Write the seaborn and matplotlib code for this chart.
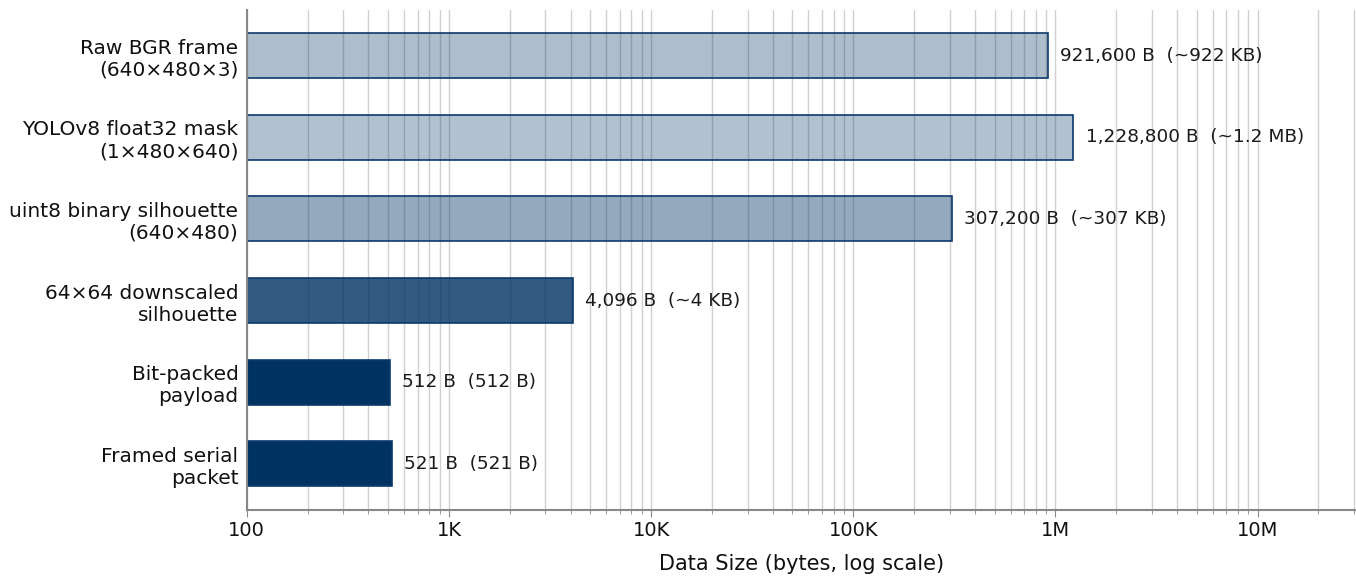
import numpy as np
import pandas as pd
import matplotlib
matplotlib.use("Agg")
import matplotlib.pyplot as plt
import matplotlib.ticker as mticker
import seaborn as sns

# data
stages = [
    "Raw BGR frame\n(640×480×3)",
    "YOLOv8 float32 mask\n(1×480×640)",
    "uint8 binary silhouette\n(640×480)",
    "64×64 downscaled\nsilhouette",
    "Bit-packed\npayload",
    "Framed serial\npacket",
]
sizes = [921600, 1228800, 307200, 4096, 512, 521]
size_notes = ["~922 KB", "~1.2 MB", "~307 KB", "~4 KB", "512 B", "521 B"]
alphas = [0.32, 0.30, 0.42, 0.80, 1.0, 1.0]

base_color = "#003262"

df = pd.DataFrame({"stage": stages, "size": sizes})

sns.set_style("white")
plt.rcParams["font.family"] = ["DejaVu Sans"]

fig, ax = plt.subplots(figsize=(13.56, 5.79), dpi=100)
fig.subplots_adjust(left=0.182, right=1.0, top=0.983, bottom=0.12)

ax.set_xscale("log")
ax.grid(True, which="both", axis="x", color="#d0d0d0", linewidth=1.0)
ax.set_axisbelow(True)

sns.barplot(data=df, x="size", y="stage", orient="h", color=base_color,
            width=0.55, ax=ax, zorder=2)

for patch, a in zip(ax.patches, alphas):
    patch.set_facecolor(matplotlib.colors.to_rgba(base_color, a))
    patch.set_edgecolor("#0b3a6a")
    patch.set_linewidth(1.2)

# value labels
for i, (s, note) in enumerate(zip(sizes, size_notes)):
    ax.text(s * 1.15, i, f"{s:,} B  ({note})", va="center", ha="left",
            fontsize=13.3, color="#1a1a1a")

ax.set_xlim(100, 3.07e7)
ax.set_ylim(5.56, -0.56)

def fmt(v, pos):
    labels = {100: "100", 1e3: "1K", 1e4: "10K", 1e5: "100K", 1e6: "1M", 1e7: "10M"}
    for k, lab in labels.items():
        if abs(v - k) < 1e-6 * k:
            return lab
    return ""

ax.xaxis.set_major_formatter(mticker.FuncFormatter(fmt))
ax.xaxis.set_minor_formatter(mticker.NullFormatter())
ax.tick_params(axis="x", which="major", labelsize=14, length=5, color="#888888",
               bottom=True, labelcolor="#111111")
ax.tick_params(axis="x", which="minor", length=3, color="#888888", bottom=True)
ax.tick_params(axis="y", labelsize=14.5, length=0, pad=6, labelcolor="#111111")

ax.set_xlabel("Data Size (bytes, log scale)", fontsize=15, labelpad=10,
              color="#111111")
ax.set_ylabel("")

sns.despine(ax=ax)
for side in ["left", "bottom"]:
    ax.spines[side].set_color("#888888")
    ax.spines[side].set_linewidth(1.5)

fig.savefig("out.png", dpi=100)
